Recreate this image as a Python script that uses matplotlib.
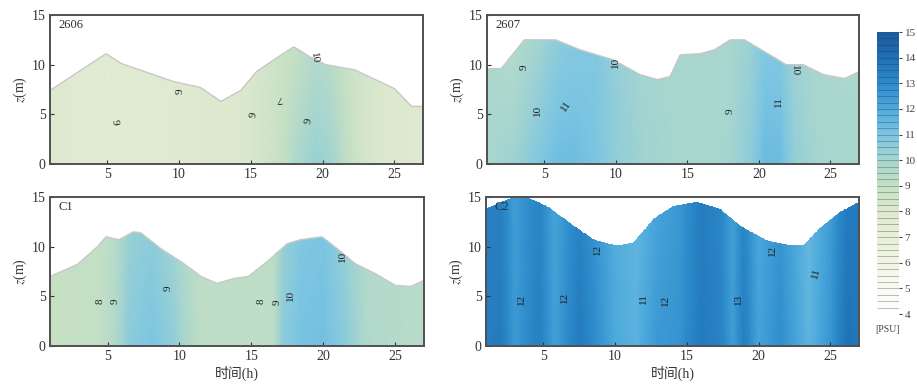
import numpy as np
import matplotlib
matplotlib.use("Agg")
import matplotlib.pyplot as plt
from matplotlib.colors import LinearSegmentedColormap, Normalize
from matplotlib.patches import Polygon

plt.rcParams['font.family'] = ['Liberation Serif', 'Noto Sans CJK SC']
plt.rcParams['mathtext.fontset'] = 'stix'

# 站位
stations = ['2606', '2607', 'C1', 'C2']

# 水面高度 (时间 h, 高度 m)
t_2606 = [1, 4.9, 6, 9.6, 11.5, 12.9, 14.3, 15.4, 16.6, 18, 19.1, 20.2, 22.2, 25, 26.2, 27]
h_2606 = [7.4, 11.1, 10.1, 8.3, 7.7, 6.3, 7.4, 9.3, 10.5, 11.8, 10.8, 10.0, 9.5, 7.6, 5.8, 5.8]

t_2607 = [1, 2, 3.6, 5.8, 7.5, 9.8, 11.7, 12.9, 13.8, 14.5, 15.9, 16.9, 18, 19, 21, 21.9, 23.1, 24.5, 26, 27]
h_2607 = [9.6, 9.6, 12.5, 12.5, 11.5, 10.5, 9.0, 8.5, 8.8, 11.0, 11.1, 11.5, 12.5, 12.5, 10.8, 10.0, 10.0, 9.0, 8.6, 9.3]

t_c1 = [1, 2.9, 4.3, 4.9, 5.8, 6.8, 7.3, 8.7, 10.1, 11.5, 12.6, 13.8, 14.8, 16.1, 17.5, 18.4, 19.9, 20.8, 22.2, 23.6, 25, 26.1, 27]
h_c1 = [7.0, 8.2, 10.0, 11.0, 10.7, 11.5, 11.4, 9.8, 8.5, 7.0, 6.3, 6.8, 7.0, 8.5, 10.3, 10.7, 11.0, 10.0, 8.3, 7.3, 6.1, 6.0, 6.6]

t_c2 = [1, 2.9, 3.8, 5.2, 7.1, 8.5, 10.1, 11.3, 12.7, 14.1, 15.7, 17.3, 18.7, 20.6, 22, 23.2, 24.3, 25.7, 27]
h_c2 = [13.8, 15.0, 15.0, 14.1, 12.1, 10.7, 10.1, 10.4, 12.8, 14.1, 14.5, 13.8, 12.1, 10.6, 10.2, 10.2, 11.9, 13.5, 14.5]

# 盐度 (PSU): 底层与表层
st_2606 = [1, 3, 5, 8, 10, 13, 15, 16.5, 17.5, 18.5, 19.5, 20.5, 21.5, 22.5, 24, 27]
sb_2606 = [8.0, 7.8, 7.6, 7.7, 7.9, 8.0, 8.2, 8.7, 9.2, 9.9, 10.3, 10.1, 9.3, 8.6, 8.1, 7.9]
ss_2606 = [8.0, 7.8, 7.6, 7.7, 7.9, 8.0, 8.2, 8.6, 8.9, 9.2, 9.6, 9.5, 9.0, 8.5, 8.1, 7.9]

st_2607 = [1, 3, 4.5, 6, 7, 8.5, 10, 12, 15, 18, 19.5, 20.5, 21.5, 22.5, 24, 27]
sb_2607 = [9.9, 10.2, 10.8, 11.3, 11.3, 11.0, 10.5, 10.1, 9.9, 10.0, 10.6, 11.4, 11.3, 10.4, 10.0, 9.9]
ss_2607 = [9.8, 9.6, 10.0, 10.6, 10.8, 10.9, 10.4, 10.0, 9.9, 9.9, 10.3, 10.9, 10.9, 10.2, 9.9, 9.8]

st_c1 = [1, 4.5, 5.5, 6.5, 8, 9.5, 10.5, 11.5, 16.5, 17.2, 18.5, 20, 21.5, 23, 27]
sb_c1 = [9.0, 9.1, 9.6, 10.6, 11.0, 10.5, 9.8, 9.2, 9.2, 10.6, 11.1, 11.2, 10.6, 9.7, 9.4]
ss_c1 = [9.0, 9.1, 9.4, 10.3, 10.6, 10.2, 9.6, 9.2, 9.2, 10.3, 10.9, 11.0, 10.4, 9.6, 9.4]

st_c2 = [1, 2, 3, 4.7, 5.8, 7.5, 8.8, 10, 11.5, 13, 14.5, 16, 17.3, 18.2, 19, 20, 21.5, 23.5, 25, 26.2, 27]
sb_c2 = [13.5, 13.6, 12.5, 13.4, 12.3, 13.6, 12.8, 12.0, 11.7, 12.6, 12.7, 13.6, 13.3, 12.4, 13.4, 12.2, 12.9, 11.6, 12.6, 13.9, 13.7]
ss_c2 = [13.4, 13.4, 12.4, 13.2, 12.2, 13.3, 12.6, 11.9, 11.6, 12.2, 12.6, 13.5, 13.2, 12.3, 13.2, 12.1, 12.7, 11.5, 12.4, 13.6, 13.6]

# 等值线标注 (x, z, 数值, 旋转角)
labels_2606 = [(5.5, 4.2, '9', -80), (10.1, 7.3, '9', 90), (15.2, 4.9, '9', 80),
               (17.0, 6.6, '7', 180), (19.0, 4.3, '9', 80), (19.4, 10.7, '10', -80)]
labels_2607 = [(3.6, 9.7, '9', 90), (4.5, 5.4, '10', 90), (6.5, 5.8, '11', 55),
               (10.0, 10.2, '10', 90), (18.0, 5.3, '9', 90), (21.4, 6.3, '11', 90), (22.5, 9.4, '10', -90)]
labels_c1 = [(4.5, 4.5, '8', 90), (5.5, 4.5, '9', 90), (9.2, 5.8, '9', 90), (15.7, 4.5, '8', 90),
             (16.8, 4.4, '9', 90), (17.7, 5.1, '10', 90), (21.3, 9.0, '10', 90)]
labels_c2 = [(3.5, 4.7, '12', 90), (6.5, 4.9, '12', 90), (8.8, 9.7, '12', 90), (12.0, 4.8, '11', 90),
             (13.5, 4.6, '12', 90), (18.6, 4.7, '13', 90), (21.0, 9.6, '12', 90), (24.0, 7.3, '11', 75)]

panels = [
    (t_2606, h_2606, st_2606, sb_2606, ss_2606, labels_2606),
    (t_2607, h_2607, st_2607, sb_2607, ss_2607, labels_2607),
    (t_c1, h_c1, st_c1, sb_c1, ss_c1, labels_c1),
    (t_c2, h_c2, st_c2, sb_c2, ss_c2, labels_c2),
]

cvals = [4, 5, 6, 7, 8, 9, 10, 11, 12, 13, 14, 15]
ccols = ['#ffffff', '#f8faf2', '#f1f5e6', '#e8efd8', '#dde9cf', '#c6e0c4',
         '#a5d5d0', '#7cc5e2', '#4eaadc', '#2d8bcb', '#1f70b6', '#1a5a9e']
cmap = LinearSegmentedColormap.from_list('psu', [((v - 4) / 11, c) for v, c in zip(cvals, ccols)])
norm = Normalize(4, 15)
levels = np.arange(4, 15.01, 0.25)

fig = plt.figure(figsize=(9.17, 3.9), dpi=100)
rects = [
    [50 / 917, 226 / 390, 373 / 917, 149 / 390],
    [487 / 917, 226 / 390, 372 / 917, 149 / 390],
    [50 / 917, 44 / 390, 374 / 917, 149 / 390],
    [486 / 917, 44 / 390, 373 / 917, 149 / 390],
]

tt = np.linspace(1, 27, 300)
zz = np.linspace(0, 15, 80)
T, Z = np.meshgrid(tt, zz)

for i, (rect, (ts, hs, sts, sbs, sss, labs)) in enumerate(zip(rects, panels)):
    ax = fig.add_axes(rect)
    h = np.interp(tt, ts, hs)
    sb = np.interp(tt, sts, sbs)
    ss = np.interp(tt, sts, sss)
    frac = np.clip(Z / h[None, :], 0, 1)
    S = sb[None, :] + (ss - sb)[None, :] * frac
    mesh = ax.pcolormesh(T, Z, S, cmap=cmap, norm=norm, shading='gouraud')
    verts = np.vstack([[tt[0], 0], np.column_stack([tt, h]), [tt[-1], 0]])
    clip = Polygon(verts, closed=True, transform=ax.transData, facecolor='none', edgecolor='none')
    ax.add_patch(clip)
    mesh.set_clip_path(clip)
    if i < 3:
        ax.plot(tt, h, color='#c8c8c8', lw=1.0)
    for x, z, s, r in labs:
        ax.text(x, z, s, rotation=r, ha='center', va='center', fontsize=8, color='#202020')
    ax.text(1.6, 14.0, stations[i], ha='left', va='center', fontsize=9, color='#303030')
    ax.set_xlim(1, 27)
    ax.set_ylim(0, 15)
    ax.set_xticks([5, 10, 15, 20, 25])
    ax.set_yticks([0, 5, 10, 15])
    ax.tick_params(direction='in', length=3, labelsize=10, colors='#333333', pad=3)
    for sp in ax.spines.values():
        sp.set_color('#505050')
        sp.set_linewidth(1.4)
    ax.set_ylabel(r'$z$(m)', fontsize=10, labelpad=2, color='#333333')
    if i >= 2:
        ax.set_xlabel('时间(h)', fontsize=10, labelpad=2, color='#333333')

# 色标
cax = fig.add_axes([877 / 917, 76 / 390, 22 / 917, 282 / 390])
cb = fig.colorbar(plt.cm.ScalarMappable(norm=norm, cmap=cmap), cax=cax, ticks=cvals)
cb.outline.set_visible(False)
cax.hlines(levels[1:-1], 0, 1, transform=cax.get_yaxis_transform(), colors='#303030',
           linewidth=0.5, alpha=0.45)
cax.tick_params(length=2, labelsize=8, colors='#444444', pad=2)
cax.set_ylim(4, 15)
fig.text(887 / 917, 60 / 390, '[PSU]', ha='center', va='center', fontsize=7, color='#444444')

fig.savefig('out.png', dpi=100)
